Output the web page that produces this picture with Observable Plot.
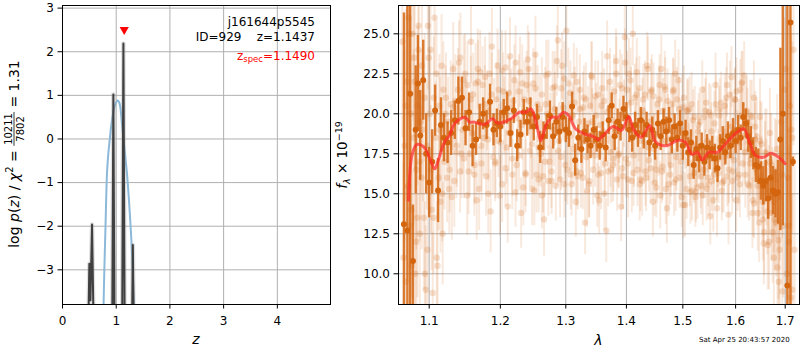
<!DOCTYPE html>
<html><head><meta charset="utf-8">
<script src="https://cdn.jsdelivr.net/npm/d3@7"></script>
<script src="https://cdn.jsdelivr.net/npm/@observablehq/plot@0.6"></script>
<style>
body{margin:0;background:#fff;}
#wrap{position:relative;width:800px;height:350px;font-family:"DejaVu Sans",sans-serif;}
#wrap > svg{position:absolute;top:0;}
</style></head><body><div id="wrap"></div>
<script>
// ---------- left panel data ----------
const zTicks = [0, 1, 2, 3, 4];
const logTicks = [-3, -2, -1, 0, 1, 2, 3];
const zBlack = [0.40, 0.485, 0.500, 0.520, 0.550, 0.575, 0.62, 0.90, 0.927, 0.947, 0.967, 1.05, 1.112, 1.134, 1.156, 1.25, 1.297, 1.310, 1.323, 1.40];
const logPz  = [-9, -4.0, -2.86, -3.7, -1.96, -4.0, -9, -9, -4.0, 1.02, -4.0, -9, -4.0, 2.19, -4.0, -9, -4.0, -2.43, -4.0, -9];
const zBlue = [0.755, 0.765, 0.780, 0.797, 0.812, 0.828, 0.850, 0.877, 0.905, 0.940, 0.980, 1.026, 1.055, 1.077, 1.105, 1.138, 1.170, 1.201, 1.240, 1.276, 1.305, 1.328, 1.340];
const logPzBlue = [-4.6, -3.79, -2.95, -2.18, -1.45, -0.80, -0.38, -0.04, 0.28, 0.57, 0.78, 0.88, 0.84, 0.72, 0.38, -0.04, -0.42, -0.80, -1.45, -2.18, -2.9, -3.79, -4.3];
const zSpec = 1.149;
const zSpecMarkY = 2.48;
const objName = "j161644p5545";
const objInfo = "ID=929    z=1.1437";
const zSpecLabel = "=1.1490";
const chiNum = "10211", chiDen = "7802", chiRatio = "1.31";

// ---------- right panel data ----------
const lamTicks = [1.1, 1.2, 1.3, 1.4, 1.5, 1.6, 1.7];
const fTicks = [10, 12.5, 15, 17.5, 20, 22.5, 25];
const darkLam = [1.0666,1.0711,1.0747,1.0784,1.082,1.085,1.088,1.092,1.096,1.100,1.104,1.108,1.112,1.116,1.120,
1.125,1.130,1.135,1.140,1.145,1.150,1.155,1.160,1.165,1.170,
1.175,1.180,1.185,1.190,1.195,1.200,1.205,1.210,1.215,1.220,
1.225,1.230,1.235,1.240,1.245,1.250,1.255,1.260,1.265,1.270,
1.275,1.280,1.285,1.290,1.295,1.300,1.305,1.310,1.315,1.320,
1.325,1.330,1.335,1.340,1.345,1.350,1.355,1.360,1.365,1.370,
1.375,1.380,1.385,1.390,1.395,1.400,1.405,1.410,1.415,1.420,
1.425,1.430,1.435,1.440,1.445,1.450,1.455,1.460,1.465,1.470,
1.475,1.480,1.485,1.490,1.495,1.500,1.505,1.510,1.515,1.520,
1.525,1.530,1.535,1.540,1.545,1.550,1.555,1.560,1.565,1.570,
1.575,1.580,1.585,1.590,1.595,1.600,1.605,1.610,1.615,1.620,
1.625,1.630,1.635,1.640,1.645,1.650,1.655,1.660,1.665,1.670,
1.675,1.680,1.685,1.690,1.695,
1.7045,1.711,1.716];
const darkF = [13.1,12.7,21.25,10.8,19.0,21.9,18.65,22.1,17.5,15.7,17.0,20.2,15.2,19.3,18.5,
18.2,18.8,19.6,20.8,21.0,19.1,20.1,18.0,18.4,19.5,
20.0,19.3,20.75,19.0,19.4,19.2,20.1,20.35,18.8,20.2,
18.0,18.7,20.1,19.5,20.0,19.2,19.8,17.9,18.6,19.2,
19.9,18.6,19.5,18.9,19.8,19.0,18.8,20.45,17.1,18.5,
17.8,18.9,18.4,18.0,19.0,18.4,18.0,18.7,17.9,19.6,
20.5,18.6,19.5,19.2,20.3,19.8,19.0,18.5,19.3,18.8,
19.6,18.7,19.3,18.2,19.0,18.0,19.4,18.6,19.5,18.9,
19.6,18.4,19.2,18.5,19.4,18.0,18.8,17.6,18.2,16.8,
17.8,17.2,18.0,17.0,17.9,17.4,17.8,17.2,16.6,17.9,
18.3,17.6,18.6,18.0,18.8,18.3,19.0,18.5,19.8,19.4,
18.6,18.2,17.5,16.8,16.7,15.8,15.5,15.8,14.7,16.0,
15.2,15.0,15.1,18.4,20.0,
9.27,25.7,17.0];
const darkErr = [13.2,30,30,3.5,4.0,3.0,2.8,2.5,2.5,2.2,2.0,1.6,2.0,1.7,1.5,
1.3,1.4,1.2,1.5,1.3,1.1,1.2,1.3,1.0,1.1,
1.0,0.9,1.1,1.0,0.9,1.0,0.8,1.0,0.9,0.8,
1.0,0.9,0.8,0.9,1.0,0.9,0.8,1.0,0.9,0.8,
0.9,0.8,0.9,0.8,0.9,0.8,0.9,0.9,1.0,0.8,
0.9,0.8,0.9,0.8,0.9,0.8,0.9,0.8,0.9,0.9,
0.8,0.9,0.8,0.9,0.8,0.9,0.8,0.9,0.8,0.9,
0.8,0.9,0.8,0.9,0.8,0.9,0.8,0.9,0.8,0.9,
0.8,0.9,0.8,0.9,0.8,0.9,0.8,0.9,0.8,0.9,
0.8,0.9,0.8,0.9,0.8,0.9,0.8,0.9,0.9,0.8,
0.9,0.8,0.9,0.8,0.9,0.8,0.9,0.8,0.9,0.9,
1.0,1.0,1.0,1.1,1.1,1.2,1.2,1.3,1.3,1.4,
1.5,1.5,2.0,5.7,7.0,
30,30,0.3];
const faintA = [24.5,9.5,26.0,14.0,23.5,12.0,25.5,16.0,21.0,11.5,24.0,13.5,22.5,20.5,15.0,
21.0,16.5,22.8,18.0,23.5,17.2,21.8,24.5,16.8,22.0,
16.9,22.3,18.4,24.2,17.0,21.5,15.6,22.9,18.8,16.2,
23.2,17.4,21.9,16.3,22.8,18.1,23.7,15.9,21.2,17.0,
22.5,16.4,21.7,24.6,17.3,22.2,16.5,21.3,17.8,22.0,
21.5,16.0,20.9,15.6,22.3,17.4,21.2,16.3,20.8,23.6,
22.0,16.8,23.3,17.5,21.6,24.8,16.9,22.1,16.3,21.2,
21.6,15.8,21.2,22.8,16.6,21.1,15.4,20.9,16.4,21.7,
20.8,16.2,21.4,15.9,22.1,17.0,21.0,15.3,20.3,15.2,
19.8,15.4,19.5,14.9,20.2,16.0,19.9,14.6,20.6,16.3,
20.7,15.8,21.0,16.5,22.3,17.1,21.4,16.2,21.9,22.4,
20.2,15.5,19.8,14.4,18.6,13.2,18.1,12.6,17.5,12.0,
16.8,11.0,15.9,9.5,19.5,
22.8,12.0,19.0];
const faintB = [11.0,22.0,13.0,25.0,10.0,20.5,12.5,19.0,9.0,23.5,14.0,26.0,10.5,14.5,21.5,
16.0,20.6,15.8,21.5,17.5,22.5,16.4,18.8,21.9,15.3,
21.8,16.1,22.5,17.3,20.9,14.9,21.4,17.9,23.6,20.8,
16.8,22.6,15.4,21.8,17.7,21.9,16.2,20.3,16.1,22.4,
17.0,21.6,15.5,18.3,23.0,16.8,21.9,15.6,20.7,16.1,
16.3,21.0,15.2,20.5,16.5,19.9,14.6,21.6,16.9,16.4,
16.5,21.4,15.9,21.8,16.1,17.2,22.5,15.8,21.0,16.5,
15.9,20.9,16.0,17.1,21.5,15.7,20.6,14.9,20.2,15.3,
15.6,20.6,15.7,20.9,16.0,20.4,14.3,20.2,15.1,19.6,
15.1,19.3,15.5,19.8,15.3,20.1,15.8,19.4,14.1,20.3,
15.7,20.5,16.1,21.2,16.4,20.9,16.0,21.5,16.9,16.2,
15.6,19.9,14.6,19.2,13.8,18.3,13.4,17.6,11.8,17.0,
12.6,16.3,10.4,14.8,8.9,
10.0,20.5,9.0];
const faintC = [18.0,15.5,20.0,18.5,16.5,24.0,19.5,13.5,18.0,20.0,8.8,18.5,16.0,23.0,17.0,
19.5,14.8,20.8,23.2,19.0,19.8,17.5,21.2,14.6,22.6,
18.5,20.2,13.9,19.8,23.0,18.2,19.9,14.2,20.4,22.1,
19.7,13.8,20.9,23.4,19.5,15.2,20.6,17.5,13.4,20.0,
19.2,19.0,23.3,15.9,20.4,25.2,18.6,19.9,14.5,19.5,
18.2,13.2,19.4,22.4,18.8,14.9,19.3,18.9,12.7,20.3,
19.6,19.0,17.4,14.2,20.0,21.5,19.4,25.0,18.6,19.3,
18.3,18.2,23.0,19.5,14.5,18.7,18.0,22.8,18.3,14.1,
18.4,18.9,22.5,18.1,19.0,14.3,18.6,17.5,20.6,16.3,
17.3,17.9,21.5,17.1,18.3,13.6,17.8,21.8,17.2,18.4,
18.6,18.9,13.7,19.2,19.0,14.6,18.8,19.9,18.6,20.1,
17.8,17.2,21.0,16.5,15.9,16.1,11.9,15.7,15.2,13.8,
14.5,13.2,12.1,17.5,13.0,
16.0,8.5,24.0];
const faintD = [20.5,25.0,10.5,22.0,13.5,17.0,23.0,10.0,25.5,16.5,21.0,11.0,19.0,12.5,20.0,
15.3,20.4,17.6,16.4,22.1,14.9,20.9,16.2,22.8,18.0,
20.6,15.0,21.2,16.9,18.3,22.7,16.6,21.3,17.2,15.1,
21.4,19.3,16.2,20.8,15.3,21.6,17.9,14.9,20.6,15.8,
15.8,20.3,17.7,21.6,15.6,19.1,16.2,22.4,16.4,20.3,
20.4,17.3,15.8,19.5,21.1,16.2,20.5,15.0,20.1,17.6,
17.2,22.5,18.9,16.6,23.2,15.9,20.7,17.4,22.6,15.6,
20.2,16.4,17.9,21.4,17.8,16.5,21.8,16.7,21.5,19.0,
16.8,21.5,17.3,20.3,14.8,18.6,20.2,16.1,18.0,14.8,
18.9,16.1,16.5,20.7,15.6,18.9,16.2,16.6,19.9,15.2,
17.3,21.8,17.4,15.8,20.9,18.2,15.6,22.0,17.6,19.5,
16.9,13.8,18.4,15.5,19.8,14.5,16.9,13.9,18.8,14.9,
13.4,17.8,11.5,16.2,21.5,
13.0,18.5,11.5];
const faintErr = [6,6,6,5.5,5,5,4.5,4.5,4,4,3.8,3.5,3.3,3.2,3.0,
2.8,2.7,2.9,2.6,2.8,2.5,2.7,2.6,2.5,2.6,
2.4,2.5,2.6,2.4,2.3,2.5,2.4,2.3,2.4,2.2,
2.3,2.2,2.4,2.1,2.3,2.2,2.4,2.1,2.3,2.2,
2.1,2.3,2.2,2.4,2.1,2.3,2.2,2.0,2.2,2.1,
2.2,2.0,2.3,2.1,2.2,2.0,2.1,2.3,2.0,2.2,
2.1,2.3,2.0,2.2,2.1,2.4,2.2,2.0,2.1,2.3,
2.0,2.2,2.1,2.0,2.2,2.1,1.9,2.1,2.0,2.2,
2.0,1.9,2.1,2.0,1.9,2.1,2.0,1.9,2.0,1.9,
1.9,2.0,1.8,1.9,2.0,1.8,1.9,2.0,1.8,1.9,
1.9,2.0,1.9,2.1,1.9,2.0,2.1,1.9,2.0,2.1,
2.1,2.2,2.3,2.2,2.4,2.5,2.6,2.7,2.8,3.0,
3.2,3.4,3.7,4.0,4.5,
6,6,6];
const modelLam = [1.0725,1.0775,1.0833,1.0930,1.1019,1.1075,1.1136,1.1207,1.1277,1.1347,
1.1488,1.1559,1.1629,1.1770,1.1887,1.1958,1.2157,1.2283,1.2384,1.2460,
1.2535,1.2611,1.2687,1.2788,1.2864,1.2965,1.3045,1.3157,1.3298,1.3466,
1.3522,1.3635,1.3775,1.3916,1.4040,1.4116,1.4260,1.4405,1.4491,1.4578,
1.4723,1.4896,1.5044,1.5171,1.5266,1.5361,1.5487,1.5646,1.5804,1.5994,
1.6161,1.6262,1.6396,1.6564,1.6698,1.6866,1.7000];
const modelF = [14.6,17.5,18.08,17.92,17.08,16.56,17.29,18.23,18.65,19.38,
19.79,19.48,19.48,19.33,19.69,19.42,19.69,20.1,20.1,20.31,
19.48,18.33,19.27,19.79,19.75,20.1,19.9,19.06,18.75,18.54,
18.38,18.75,19.21,18.96,19.83,19.06,18.54,19.27,18.33,18.08,
18.02,18.33,18.23,17.46,17.6,17.13,17.6,17.6,18.13,18.75,
19.06,18.33,17.4,17.29,17.54,17.29,16.88];
const timeStamp = "Sat Apr 25 20:43:57 2020";

// ---------- build ----------
const wrap = document.getElementById("wrap");
const GRID = "#b0b0b0";
const ORANGE = "#d4650f";
const baseStyle = {fontFamily: "DejaVu Sans", fontSize: "12px", color: "black", background: "transparent", overflow: "visible"};

const blackRows = zBlack.map((z, i) => ({z, v: logPz[i]}));
const blueRows = zBlue.map((z, i) => ({z, v: logPzBlue[i]}));
const triDown = {draw(ctx, size) { const r = Math.sqrt(size / Math.PI); ctx.moveTo(-r, -r * 0.85); ctx.lineTo(r, -r * 0.85); ctx.lineTo(0, r * 0.9); ctx.closePath(); }};

const left = Plot.plot({
  width: 340, height: 350,
  marginLeft: 62, marginRight: 10, marginTop: 5, marginBottom: 46,
  style: baseStyle,
  x: {domain: [0, 4.99], ticks: zTicks, tickFormat: d3.format("d"), tickSize: 4.5, tickPadding: 7, label: null},
  y: {domain: [-3.795, 3.06], ticks: logTicks, tickFormat: d3.format("d"), tickSize: 4.5, tickPadding: 4, label: null},
  marks: [
    Plot.ruleX(zTicks, {stroke: GRID, strokeWidth: 1}),
    Plot.ruleY(logTicks, {stroke: GRID, strokeWidth: 1}),
    Plot.line(blueRows, {x: "z", y: "v", stroke: "#8cb9d9", strokeWidth: 2, curve: "catmull-rom", clip: true}),
    Plot.line(blackRows, {x: "z", y: "v", stroke: "#999", strokeOpacity: 0.3, strokeWidth: 4.5, clip: true}),
    Plot.line(blackRows, {x: "z", y: "v", stroke: "#404040", strokeWidth: 2, clip: true}),
    Plot.dot([{z: zSpec, v: zSpecMarkY}], {x: "z", y: "v", symbol: triDown, r: 4.6, fill: "red", stroke: "none"}),
    Plot.frame({stroke: "black", strokeWidth: 1})
  ]
});
left.style.left = "0px";
wrap.appendChild(left);

const darkRows = darkLam.map((lam, i) => ({lam, f: darkF[i], lo: darkF[i] - darkErr[i], hi: darkF[i] + darkErr[i]}));
const faintSets = [[faintA, -1.6], [faintB, -0.5], [faintC, 0.6], [faintD, 1.7]];
const faintMarks = [];
for (const [vals, dx] of faintSets) {
  const rows = darkLam.map((lam, i) => ({lam, f: vals[i], lo: vals[i] - faintErr[i], hi: vals[i] + faintErr[i]}));
  faintMarks.push(Plot.ruleX(rows, {x: "lam", y1: "lo", y2: "hi", dx, stroke: ORANGE, strokeOpacity: 0.14, strokeWidth: 2, clip: true}));
  faintMarks.push(Plot.dot(rows, {x: "lam", y: "f", dx, r: 3.2, fill: ORANGE, fillOpacity: 0.2, stroke: "none", clip: true}));
}
const modelRows = modelLam.map((lam, i) => ({lam, f: modelF[i]}));

const right = Plot.plot({
  width: 460, height: 350,
  marginLeft: 58, marginRight: 1, marginTop: 5, marginBottom: 46,
  style: baseStyle,
  x: {type: "log", domain: [1.0595, 1.7300], ticks: lamTicks, tickFormat: d3.format(".1f"), tickSize: 4.5, tickPadding: 7, label: null},
  y: {domain: [8.08, 26.77], ticks: fTicks, tickFormat: d3.format(".1f"), tickSize: 4.5, tickPadding: 4, label: null},
  marks: [
    Plot.ruleX(lamTicks, {stroke: GRID, strokeWidth: 1}),
    Plot.ruleY(fTicks, {stroke: GRID, strokeWidth: 1}),
    ...faintMarks,
    Plot.ruleX(darkRows, {x: "lam", y1: "lo", y2: "hi", stroke: ORANGE, strokeOpacity: 0.85, strokeWidth: 2.4, clip: true}),
    Plot.dot(darkRows, {x: "lam", y: "f", r: 3, fill: ORANGE, stroke: "none", clip: true}),
    Plot.line(modelRows, {x: "lam", y: "f", stroke: "#ff2a2a", strokeOpacity: 0.7, strokeWidth: 3, curve: "catmull-rom", clip: true}),
    Plot.frame({stroke: "black", strokeWidth: 1})
  ]
});
right.style.left = "340px";
wrap.appendChild(right);

// ---------- text overlay ----------
const nb = s => s.replace(/ /g, "\u00a0");
const ov = d3.select(wrap).append("svg")
  .attr("width", 800).attr("height", 350)
  .style("left", "0px").style("pointer-events", "none")
  .attr("font-family", "DejaVu Sans").attr("font-size", 12).attr("fill", "black");

ov.append("text").attr("x", 315).attr("y", 26).attr("text-anchor", "end").text(objName);
ov.append("text").attr("x", 315).attr("y", 41).attr("text-anchor", "end").text(nb(objInfo));
const zs = ov.append("text").attr("x", 315).attr("y", 59.5).attr("text-anchor", "end").attr("fill", "red");
zs.append("tspan").text("z");
zs.append("tspan").attr("font-size", 8.5).attr("dy", 2.5).text("spec");
zs.append("tspan").attr("dy", -2.5).text(zSpecLabel);

ov.append("text").attr("x", 196).attr("y", 344).attr("text-anchor", "middle").attr("font-style", "italic").attr("font-size", 14).text("z");
ov.append("text").attr("x", 598.5).attr("y", 345).attr("text-anchor", "middle").attr("font-style", "italic").attr("font-size", 14).text("λ");
ov.append("text").attr("x", 699).attr("y", 342).attr("font-size", 7).text(timeStamp);

// left y label with fraction
const lab = ov.append("g").attr("transform", "translate(19,154) rotate(-90)").attr("font-size", 14);
const inner = lab.append("g");
const t1 = inner.append("text");
t1.append("tspan").text(nb("log "));
t1.append("tspan").attr("font-style", "italic").text("p");
t1.append("tspan").text("(");
t1.append("tspan").attr("font-style", "italic").text("z");
t1.append("tspan").text(nb(") / "));
t1.append("tspan").attr("font-style", "italic").text("χ");
t1.append("tspan").attr("font-size", 10).attr("dy", -6).text("2");
t1.append("tspan").attr("dy", 6).text(nb(" = "));
const w1 = t1.node().getComputedTextLength();
const num = inner.append("text").attr("font-size", 10).attr("text-anchor", "middle").text(chiNum);
const den = inner.append("text").attr("font-size", 10).attr("text-anchor", "middle").text(chiDen);
const fw = Math.max(num.node().getComputedTextLength(), den.node().getComputedTextLength()) + 2;
num.attr("x", w1 + fw / 2).attr("y", -7.2);
den.attr("x", w1 + fw / 2).attr("y", 4.6);
inner.append("line").attr("x1", w1).attr("x2", w1 + fw).attr("y1", -5).attr("y2", -5).attr("stroke", "black").attr("stroke-width", 0.8);
const t3 = inner.append("text").attr("x", w1 + fw).text(nb(" = " + chiRatio));
const total = w1 + fw + t3.node().getComputedTextLength();
inner.attr("transform", `translate(${-total / 2},0)`);

// right y label
const rl = ov.append("text").attr("transform", "translate(347,155) rotate(-90)").attr("text-anchor", "middle").attr("font-size", 13.5);
rl.append("tspan").attr("font-style", "italic").text("f");
rl.append("tspan").attr("font-style", "italic").attr("font-size", 9.5).attr("dy", 3).text("λ");
rl.append("tspan").attr("dy", -3).text(nb(" × 10"));
rl.append("tspan").attr("font-size", 9.5).attr("dy", -5.5).text("−19");
</script>
</body></html>
